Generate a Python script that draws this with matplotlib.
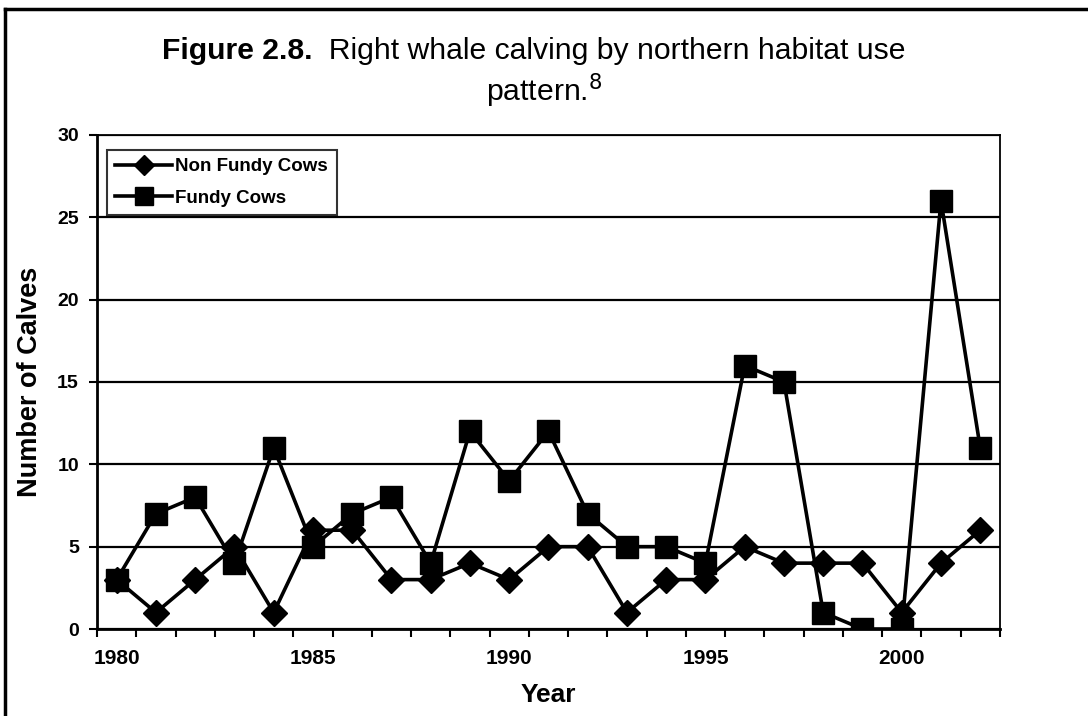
import matplotlib
matplotlib.use("Agg")
import matplotlib.pyplot as plt
import numpy as np

plt.rcParams['font.family'] = ['Liberation Sans', 'DejaVu Sans']

years = list(range(1980, 2003))
non_fundy = [3, 1, 3, 5, 1, 6, 6, 3, 3, 4, 3, 5, 5, 1, 3, 3, 5, 4, 4, 4, 1, 4, 6]
fundy = [3, 7, 8, 4, 11, 5, 7, 8, 4, 12, 9, 12, 7, 5, 5, 4, 16, 15, 1, 0, 0, 26, 11]
year_labels = ["1980", "1985", "1990", "1995", "2000"]

fig = plt.figure(figsize=(10.88, 7.16), dpi=100)
ax = fig.add_axes([0.0892, 0.1215, 0.8298, 0.69])

x = np.arange(len(years))
ax.plot(x, non_fundy, color='black', lw=2.6, marker='D', markersize=13,
        label='Non Fundy Cows', zorder=4)
ax.plot(x, fundy, color='black', lw=2.6, marker='s', markersize=16.5,
        label='Fundy Cows', zorder=3)

ax.set_xlim(-0.5, len(years) - 0.5)
ax.set_ylim(0, 30)
ax.set_yticks(range(0, 31, 5))
ax.yaxis.grid(True, color='black', lw=1.6)
ax.set_axisbelow(True)

ax.set_xticks([years.index(int(y)) for y in year_labels])
ax.set_xticklabels(year_labels)
ax.set_xticks(np.arange(-0.5, len(years), 1), minor=True)
ax.tick_params(axis='x', which='major', length=0, pad=14.5)
ax.tick_params(axis='x', which='minor', length=6, width=1.5, direction='out')
ax.tick_params(axis='y', length=6, width=1.5, direction='out', pad=7)
for lab in ax.get_xticklabels():
    lab.set_fontsize(15)
    lab.set_fontweight('bold')
for lab in ax.get_yticklabels():
    lab.set_fontsize(14)
    lab.set_fontweight('bold')

for side in ['left', 'bottom']:
    ax.spines[side].set_linewidth(2)
for side in ['top', 'right']:
    ax.spines[side].set_linewidth(1.3)

ax.set_xlabel('Year', fontsize=19, fontweight='bold', labelpad=11)
ax.set_ylabel('Number of Calves', fontsize=19.5, fontweight='bold', labelpad=10)

leg = ax.legend(loc='upper left', bbox_to_anchor=(0.011, 0.97), fontsize=13.5,
                frameon=True, fancybox=False, edgecolor='black', handlelength=3.0,
                handletextpad=0.2, borderpad=0.45, labelspacing=0.75, markerscale=0.75,
                borderaxespad=0)
leg.get_frame().set_linewidth(1.5)
for t in leg.get_texts():
    t.set_fontweight('bold')

# title: bold lead-in plus regular remainder
renderer = fig.canvas.get_renderer()
t1 = fig.text(0, 0.917, 'Figure 2.8.', fontsize=21.7, fontweight='bold', va='baseline')
t2 = fig.text(0, 0.917, '  Right whale calving by northern habitat use', fontsize=21.7,
              va='baseline')
w1 = t1.get_window_extent(renderer).width
w2 = t2.get_window_extent(renderer).width
x0 = (534 - (w1 + w2) / 2) / 1088
t1.set_x(x0)
t2.set_x(x0 + w1 / 1088)
fig.text(0.5, 0.859, 'pattern.$^{8}$', fontsize=21.7, ha='center', va='baseline')

# scan frame: top and left border
fig.add_artist(plt.Line2D([0.005, 1.0], [0.988, 0.988], color='black', lw=2.5,
                          transform=fig.transFigure))
fig.add_artist(plt.Line2D([0.005, 0.005], [0.0, 0.988], color='black', lw=2.5,
                          transform=fig.transFigure))

fig.savefig('out.png', dpi=100)
